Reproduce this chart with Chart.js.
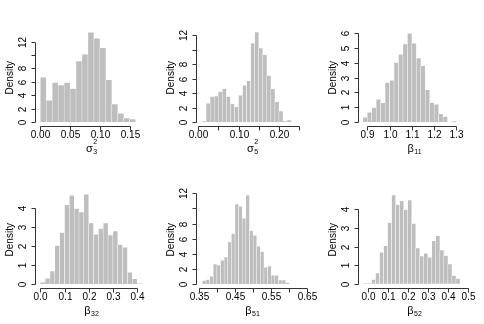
<!DOCTYPE html>
<html>
<head>
<meta charset="utf-8">
<script src="https://cdn.jsdelivr.net/npm/chart.js@4.4.0/dist/chart.umd.min.js"></script>
<style>
  html, body { margin: 0; padding: 0; background: #fff; }
  #wrap { position: relative; width: 484px; height: 324px; overflow: hidden; }
  #wrap canvas { position: absolute; }
</style>
</head>
<body>
<div id="wrap"></div>
<script>
// sigma_3^2
const s3Breaks = [0.00, 0.01, 0.02, 0.03, 0.04, 0.05, 0.06, 0.07, 0.08, 0.09, 0.10, 0.11, 0.12, 0.13, 0.14, 0.15, 0.16];
const s3Density = [6.67, 3.24, 5.88, 5.53, 5.88, 4.98, 9.11, 10.1, 13.4, 12.5, 11.1, 6.32, 2.69, 1.29, 0.6, 0.45];
const s3XTicks = [0, 0.05, 0.10, 0.15];
const s3XLabels = ["0.00", "0.05", "0.10", "0.15"];

// sigma_5^2
const s5Breaks = [0.01, 0.02, 0.03, 0.04, 0.05, 0.06, 0.07, 0.08, 0.09, 0.10, 0.11, 0.12, 0.13, 0.14, 0.15, 0.16, 0.17, 0.18, 0.19, 0.20, 0.21, 0.22, 0.23];
const s5Density = [0.1, 2.56, 3.49, 3.58, 4.19, 4.6, 3.49, 2.51, 2.09, 3.67, 5.07, 5.67, 10.85, 12.42, 10.19, 9.3, 6.42, 4.56, 2.79, 1.49, 0.1, 0.28];
const s5XTicks = [0, 0.05, 0.10, 0.15, 0.20, 0.25];
const s5XLabels = ["0.00", "", "0.10", "", "0.20", ""];

// beta_11
const b11Breaks = [0.88, 0.90, 0.92, 0.94, 0.96, 0.98, 1.00, 1.02, 1.04, 1.06, 1.08, 1.10, 1.12, 1.14, 1.16, 1.18, 1.20, 1.22, 1.24, 1.26, 1.28, 1.30];
const b11Density = [0.32, 0.65, 0.97, 1.53, 1.29, 2.66, 2.82, 4.02, 4.58, 5.28, 6.0, 5.32, 4.33, 3.81, 2.17, 1.31, 1.2, 0.56, 0.36, 0, 0.04];
const b11XTicks = [0.9, 1.0, 1.1, 1.2, 1.3];
const b11XLabels = ["0.9", "1.0", "1.1", "1.2", "1.3"];

// beta_32
const b32Breaks = [0.00, 0.02, 0.04, 0.06, 0.08, 0.10, 0.12, 0.14, 0.16, 0.18, 0.20, 0.22, 0.24, 0.26, 0.28, 0.30, 0.32, 0.34, 0.36, 0.38, 0.40, 0.42];
const b32Density = [0.09, 0.3, 0.68, 2.03, 2.72, 4.18, 4.68, 3.98, 3.8, 4.73, 3.22, 2.63, 2.93, 3.22, 2.58, 2.79, 2.08, 1.94, 0.62, 0.27, 0.02];
const b32XTicks = [0, 0.1, 0.2, 0.3, 0.4];
const b32XLabels = ["0.0", "0.1", "0.2", "0.3", "0.4"];

// beta_51
const b51Breaks = [0.36, 0.37, 0.38, 0.39, 0.40, 0.41, 0.42, 0.43, 0.44, 0.45, 0.46, 0.47, 0.48, 0.49, 0.50, 0.51, 0.52, 0.53, 0.54, 0.55, 0.56, 0.57, 0.58, 0.59, 0.60];
const b51Density = [0.44, 0.57, 1.01, 2.65, 2.51, 3.13, 3.57, 5.56, 6.66, 10.59, 10.28, 8.69, 11.78, 7.06, 6.44, 4.98, 4.28, 2.2, 2.38, 1.15, 1.15, 0.53, 0.53, 0.18];
const b51XTicks = [0.35, 0.40, 0.45, 0.50, 0.55, 0.60, 0.65];
const b51XLabels = ["0.35", "", "0.45", "", "0.55", "", "0.65"];

// beta_52
const b52Breaks = [-0.02, 0.00, 0.02, 0.04, 0.06, 0.08, 0.10, 0.12, 0.14, 0.16, 0.18, 0.20, 0.22, 0.24, 0.26, 0.28, 0.30, 0.32, 0.34, 0.36, 0.38, 0.40, 0.42, 0.44, 0.46];
const b52Density = [0.02, 0.02, 0.22, 0.57, 1.69, 2.03, 3.28, 4.77, 4.25, 4.45, 3.98, 4.5, 3.23, 1.92, 1.49, 1.63, 1.42, 2.31, 2.57, 1.81, 1.51, 1.06, 0.43, 0.27];
const b52XTicks = [0, 0.1, 0.2, 0.3, 0.4, 0.5];
const b52XLabels = ["0.0", "0.1", "0.2", "0.3", "0.4", "0.5"];

// y ticks
const yTicks12 = [0, 2, 4, 6, 8, 10, 12];
const yLabels12 = ["0", "2", "4", "6", "8", "", "12"];
const yTicks6 = [0, 1, 2, 3, 4, 5, 6];
const yLabels6 = ["0", "1", "2", "3", "4", "5", "6"];
const yTicks4 = [0, 1, 2, 3, 4];
const yLabels4 = ["0", "1", "2", "3", "4"];

const BAR = "#bebebe";
const FONT = '"Liberation Sans", Arial, Helvetica, sans-serif';
const colLeft = [0, 161, 323];
const rowTop = [0, 162];

// R-style axes: line only between first and last tick, rotated y labels
const rAxes = {
  id: "rAxes",
  afterDatasetsDraw(chart, args, o) {
    const { ctx, chartArea: a } = chart;
    const sx = chart.scales.x;
    const sy = chart.scales.y;
    const snap = (v) => Math.round(v) + 0.5;
    ctx.save();
    ctx.strokeStyle = "#333";
    ctx.fillStyle = "#000";
    ctx.lineWidth = 1;
    ctx.font = "10px " + FONT;

    const xb = snap(a.bottom);
    const xp = o.xTicks.map((v) => snap(sx.getPixelForValue(v)));
    ctx.beginPath();
    ctx.moveTo(xp[0], xb);
    ctx.lineTo(xp[xp.length - 1], xb);
    xp.forEach((p) => { ctx.moveTo(p, xb); ctx.lineTo(p, xb + 4); });
    ctx.stroke();
    ctx.textAlign = "center";
    ctx.textBaseline = "middle";
    o.xLabels.forEach((t, i) => { if (t) ctx.fillText(t, xp[i], a.bottom + 9); });

    const yl = Math.round(a.left) - 0.5;
    const yp = o.yTicks.map((v) => snap(sy.getPixelForValue(v)));
    ctx.beginPath();
    ctx.moveTo(yl, yp[0]);
    ctx.lineTo(yl, yp[yp.length - 1]);
    yp.forEach((p) => { ctx.moveTo(yl, p); ctx.lineTo(yl - 4, p); });
    ctx.stroke();
    o.yLabels.forEach((t, i) => {
      if (!t) return;
      ctx.save();
      ctx.translate(a.left - 13, yp[i]);
      ctx.rotate(-Math.PI / 2);
      ctx.fillText(t, 0, 0);
      ctx.restore();
    });

    ctx.save();
    ctx.translate(10, (a.top + a.bottom) / 2);
    ctx.rotate(-Math.PI / 2);
    ctx.fillText("Density", 0, 0);
    ctx.restore();

    // x label: greek letter with stacked sub/superscript
    const cx = (a.left + a.right) / 2;
    ctx.textAlign = "left";
    ctx.textBaseline = "alphabetic";
    ctx.font = "11px " + FONT;
    const wS = ctx.measureText(o.sym).width;
    ctx.font = "7px " + FONT;
    const wSub = ctx.measureText(o.sub).width;
    const wSup = o.sup ? ctx.measureText(o.sup).width : 0;
    const x0 = cx - (wS + 0.5 + Math.max(wSub, wSup)) / 2;
    ctx.font = "11px " + FONT;
    ctx.fillText(o.sym, x0, a.bottom + 25.5);
    ctx.font = "7px " + FONT;
    ctx.fillText(o.sub, x0 + wS + 0.5, a.bottom + 28);
    if (o.sup) ctx.fillText(o.sup, x0 + wS + 0.5, a.bottom + 18);
    ctx.restore();
  },
};

const panels = [
  { col: 0, row: 0, breaks: s3Breaks, dens: s3Density, xTicks: s3XTicks, xLabels: s3XLabels, yTicks: yTicks12, yLabels: yLabels12,
    xMin: -0.0072, xMax: 0.179, yMin: -0.598, yMax: 13.83, sym: "σ", sub: "3", sup: "2" },
  { col: 1, row: 0, breaks: s5Breaks, dens: s5Density, xTicks: s5XTicks, xLabels: s5XLabels, yTicks: yTicks12, yLabels: yLabels12,
    xMin: -0.0025, xMax: 0.2716, yMin: -0.552, yMax: 12.76, sym: "σ", sub: "5", sup: "2" },
  { col: 2, row: 0, breaks: b11Breaks, dens: b11Density, xTicks: b11XTicks, xLabels: b11XLabels, yTicks: yTicks6, yLabels: yLabels6,
    xMin: 0.8628, xMax: 1.3606, yMin: -0.271, yMax: 6.26, sym: "β", sub: "11", sup: "" },
  { col: 0, row: 1, breaks: b32Breaks, dens: b32Density, xTicks: b32XTicks, xLabels: b32XLabels, yTicks: yTicks4, yLabels: yLabels4,
    xMin: -0.0178, xMax: 0.4409, yMin: -0.211, yMax: 4.886, sym: "β", sub: "32", sup: "" },
  { col: 1, row: 1, breaks: b51Breaks, dens: b51Density, xTicks: b51XTicks, xLabels: b51XLabels, yTicks: yTicks12, yLabels: yLabels12,
    xMin: 0.345, xMax: 0.6516, yMin: -0.529, yMax: 12.24, sym: "β", sub: "51", sup: "" },
  { col: 2, row: 1, breaks: b52Breaks, dens: b52Density, xTicks: b52XTicks, xLabels: b52XLabels, yTicks: yTicks4, yLabels: yLabels4,
    xMin: -0.0423, xMax: 0.5099, yMin: -0.231, yMax: 4.957, sym: "β", sub: "52", sup: "" },
];

const wrap = document.getElementById("wrap");

panels.forEach((p) => {
  const cv = document.createElement("canvas");
  cv.width = 161;
  cv.height = 162;
  cv.style.left = colLeft[p.col] + "px";
  cv.style.top = rowTop[p.row] + "px";
  wrap.appendChild(cv);

  const points = p.dens.map((d, i) => ({ x: (p.breaks[i] + p.breaks[i + 1]) / 2, y: d }));

  new Chart(cv, {
    type: "bar",
    data: {
      datasets: [{
        data: points,
        backgroundColor: BAR,
        borderColor: "#ffffff",
        borderWidth: 0.5,
        barPercentage: 1,
        categoryPercentage: 1,
      }],
    },
    options: {
      responsive: false,
      animation: false,
      devicePixelRatio: 1,
      events: [],
      layout: { padding: { left: 36, right: 14, top: 29.5, bottom: 36 } },
      scales: {
        x: { type: "linear", display: false, offset: false, min: p.xMin, max: p.xMax },
        y: { type: "linear", display: false, min: p.yMin, max: p.yMax },
      },
      plugins: {
        legend: { display: false },
        tooltip: { enabled: false },
        rAxes: { xTicks: p.xTicks, xLabels: p.xLabels, yTicks: p.yTicks, yLabels: p.yLabels, sym: p.sym, sub: p.sub, sup: p.sup },
      },
    },
    plugins: [rAxes],
  });
});
</script>
</body>
</html>
